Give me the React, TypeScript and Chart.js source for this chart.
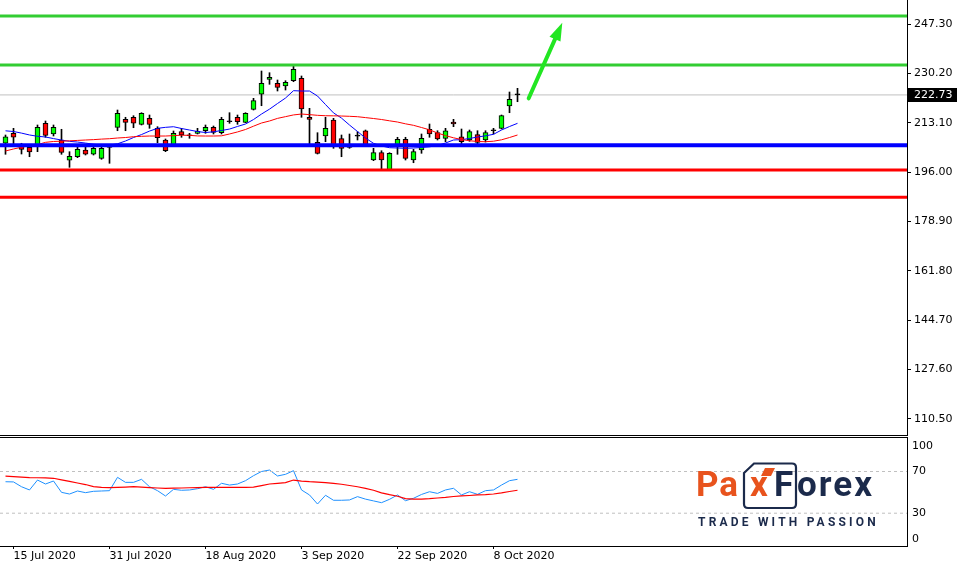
import React, { useEffect, useRef } from 'react';
import { Chart, registerables } from 'chart.js';

Chart.register(...registerables);
Chart.defaults.font.family = 'DejaVu Sans';
Chart.defaults.font.size = 11;

// ---------- data ----------
const dates = [
  '14 Jul 2020', '15 Jul 2020', '16 Jul 2020', '17 Jul 2020', '20 Jul 2020', '21 Jul 2020', '22 Jul 2020', '23 Jul 2020',
  '24 Jul 2020', '27 Jul 2020', '28 Jul 2020', '29 Jul 2020', '30 Jul 2020', '31 Jul 2020', '3 Aug 2020', '4 Aug 2020',
  '5 Aug 2020', '6 Aug 2020', '7 Aug 2020', '10 Aug 2020', '11 Aug 2020', '12 Aug 2020', '13 Aug 2020', '14 Aug 2020',
  '17 Aug 2020', '18 Aug 2020', '19 Aug 2020', '20 Aug 2020', '21 Aug 2020', '24 Aug 2020', '25 Aug 2020', '26 Aug 2020',
  '27 Aug 2020', '28 Aug 2020', '31 Aug 2020', '1 Sep 2020', '2 Sep 2020', '3 Sep 2020', '4 Sep 2020', '8 Sep 2020',
  '9 Sep 2020', '10 Sep 2020', '11 Sep 2020', '14 Sep 2020', '15 Sep 2020', '16 Sep 2020', '17 Sep 2020', '18 Sep 2020',
  '21 Sep 2020', '22 Sep 2020', '23 Sep 2020', '24 Sep 2020', '25 Sep 2020', '28 Sep 2020', '29 Sep 2020', '30 Sep 2020',
  '1 Oct 2020', '2 Oct 2020', '5 Oct 2020', '6 Oct 2020', '7 Oct 2020', '8 Oct 2020', '9 Oct 2020', '12 Oct 2020',
  '13 Oct 2020',
];
const dateTickIndex = [1, 13, 25, 37, 49, 61];

const opens = [
  205.97, 209.43, 205.13, 204.58, 205.03, 212.9, 209.19, 207.11, 200.08, 201.32,
  203.64, 202.16, 200.77, 205.03, 211.51, 214.28, 214.98, 212.55, 214.63, 211.16,
  207.11, 205.27, 209.99, 208.6, 209.43, 210.33, 211.51, 209.64, 213.45, 214.98,
  213.24, 217.75, 222.95, 228.14, 226.76, 225.82, 227.66, 228.49, 214.98, 206.31,
  208.5, 214.04, 207.56, 204.58, 208.5, 210.33, 200.18, 202.71, 196.72, 205.38,
  207.35, 200.18, 203.64, 210.82, 209.64, 207.7, 213.35, 208.25, 207.11, 208.95,
  207.11, 210.33, 211.16, 218.89, 222.8,
];
const highs = [
  208.84, 211.16, 205.97, 205.38, 212.31, 213.69, 212.31, 210.82, 203.06, 204.58,
  204.58, 204.79, 204.79, 205.38, 217.5, 214.98, 215.53, 216.57, 215.77, 211.72,
  207.46, 210.23, 211.16, 209.43, 211.16, 212.31, 211.96, 214.98, 216.57, 215.77,
  216.57, 221.56, 231.02, 230.43, 227.9, 227.66, 232.75, 229.29, 218.09, 209.64,
  214.98, 214.63, 208.84, 209.19, 209.99, 210.57, 204.23, 203.4, 202.71, 208.05,
  208.05, 203.89, 209.19, 212.65, 210.33, 211.16, 214.28, 210.92, 210.57, 210.33,
  210.33, 211.16, 215.77, 223.74, 225.02,
];
const lows = [
  202.16, 205.03, 202.26, 201.32, 203.06, 208.05, 208.5, 202.16, 197.65, 200.98,
  201.91, 201.91, 200.42, 199.04, 210.33, 210.33, 211.37, 212.31, 211.16, 206.17,
  203.06, 205.03, 208.05, 207.7, 209.19, 209.43, 209.19, 209.19, 212.9, 212.55,
  213.1, 217.5, 218.99, 226.41, 224.09, 224.43, 227.31, 214.98, 205.03, 202.26,
  206.52, 204.23, 201.32, 204.23, 207.11, 204.79, 199.94, 196.72, 196.5, 202.16,
  200.18, 199.24, 202.5, 208.05, 207.11, 206.52, 211.72, 205.38, 206.66, 205.13,
  206.42, 209.19, 210.92, 216.57, 220.38,
];
const closes = [
  208.25, 208.05, 203.89, 202.95, 211.51, 208.74, 211.51, 202.85, 201.46, 203.89,
  202.16, 204.23, 204.23, 204.58, 216.36, 213.24, 212.9, 216.36, 212.55, 207.91,
  203.4, 209.43, 208.84, 208.58, 210.12, 211.51, 209.78, 214.28, 213.42, 213.45,
  216.36, 220.73, 226.76, 228.84, 225.37, 227.1, 231.61, 217.85, 214.28, 202.5,
  211.16, 205.13, 204.23, 205.13, 208.47, 205.03, 202.71, 200.18, 202.5, 207.35,
  200.77, 203.06, 207.7, 209.19, 207.46, 210.33, 212.65, 206.52, 209.99, 206.31,
  209.64, 210.36, 215.53, 221.21, 222.73,
];
const maFast = [
  210.3, 210.05, 209.5, 208.85, 208.4, 208.15, 207.6, 207.1, 206.65, 206.4,
  206.05, 205.65, 205.37, 205.37, 205.8, 206.76, 207.97, 209.0, 210.2, 211.16,
  211.5, 211.71, 211.1, 210.57, 210.05, 209.7, 209.95, 210.4, 210.9, 211.8,
  212.65, 214.2, 216.1, 217.8, 219.75, 221.65, 224.2, 224.08, 224.08, 222.35,
  219.4, 216.5, 214.7, 212.3, 210.05, 207.8, 205.96, 205.03, 204.44, 204.34,
  204.24, 204.34, 204.51, 204.75, 205.2, 206.07, 207.11, 207.24, 207.63, 208.15,
  208.56, 209.08, 210.57, 211.78, 212.89,
];
const maSlow = [
  203.3, 204.0, 204.6, 205.1, 205.5, 206.3, 206.6, 206.69, 206.83, 206.97,
  207.11, 207.24, 207.42, 207.56, 207.8, 207.97, 208.25, 208.39, 208.49, 208.49,
  208.49, 208.63, 208.77, 208.73, 208.52, 208.49, 208.49, 208.56, 209.2, 209.9,
  210.75, 211.9, 213.0, 213.7, 214.6, 215.2, 215.8, 216.11, 215.9, 215.66,
  215.52, 215.49, 215.42, 215.32, 215.18, 214.87, 214.56, 214.21, 213.76, 213.34,
  212.72, 212.2, 211.44, 210.64, 209.54, 208.63, 207.87, 207.28, 206.86, 206.59,
  206.52, 206.69, 207.18, 207.97, 208.84,
];
const oscMain = [
  60.2, 60, 55.4, 52.3, 61.8, 58, 60.9, 50, 48.4, 51.3,
  49.7, 51, 51.3, 51.6, 64.4, 59.6, 59.6, 62.5, 55.4, 51.6,
  46.5, 52.9, 52, 52.3, 53.5, 55.4, 52.9, 58.7, 57, 58,
  61.2, 66, 70, 71.4, 65.7, 67.3, 70.8, 52.3, 47.5, 38.8,
  47.2, 42.4, 42.4, 42.7, 45.9, 43.5, 41.8, 40.1, 43.3, 47.5,
  42, 44.3, 48, 50.6, 49, 52.3, 53.9, 47.5, 50.6, 48.1,
  51.6, 52.3, 57, 61.2, 62.5,
];
const oscSignal = [
  65.5, 65, 64.6, 64.2, 64, 63.8, 63.5, 62, 60.6, 59,
  57.5, 55.5, 54.8, 54.5, 54.7, 55, 55.4, 55, 54.6, 54.2,
  53.9, 54, 54.2, 54.4, 54.6, 54.8, 54.8, 54.8, 54.8, 54.8,
  54.8, 55, 56.5, 58, 58.7, 59.3, 61.8, 60.8, 60.2, 59.8,
  59.4, 58.6, 57.8, 56.6, 55.4, 53.8, 52, 49.5, 47.8, 46.3,
  44, 43.6, 43.6, 44, 44.6, 45.2, 46, 46.6, 47, 47.5,
  47.8, 48.4, 49.5, 50.8, 52,
];
const priceTicks = [110.5, 127.6, 144.7, 161.8, 178.9, 196.0, 213.1, 230.2, 247.3];
const oscTicks = [0, 30, 70, 100];
const oscLevels = [70, 30];
const greenLevels = [250.08, 233.1];
const blueLevels = [205.3];
const redLevels = [196.7, 187.26];
const lastPrice = 222.73;
const arrowFrom = [65.4, 221.56];
const arrowTo = [69.6, 247.75];

const PRICE_MIN = 104.55;
const PRICE_MAX = 255.62;
const OSC_MIN = -1.46;
const OSC_MAX = 103.1;
const X_MIN = -0.6875;
const X_MAX = 112.6875;

// ---------- styles ----------
const BULL = '#00ff00';
const BEAR = '#ff0000';
const LEVEL_GREEN = '#32cd32';
const ARROW_GREEN = '#22e622';
const FONT = '11px "DejaVu Sans"';

const levelLine = (y: number, color: string, width: number) => ({
  type: 'line' as const,
  data: [{ x: X_MIN, y }, { x: X_MAX, y }],
  borderColor: color,
  borderWidth: width,
  pointRadius: 0,
  order: -2,
});

function mainConfig(): any {
  const idx = closes.map((_, i) => i);
  const bodyColors = idx.map((i) =>
    Math.abs(closes[i] - opens[i]) < 0.1 ? '#000000' : closes[i] > opens[i] ? BULL : BEAR
  );
  const datasets: any[] = [
    {
      type: 'line',
      data: [{ x: X_MIN, y: lastPrice }, { x: X_MAX, y: lastPrice }],
      borderColor: '#c0c0c0',
      borderWidth: 1,
      pointRadius: 0,
      order: 3,
    },
    {
      type: 'bar',
      data: idx.map((i) => ({ x: i, y: [lows[i], highs[i]] })),
      backgroundColor: '#000000',
      borderWidth: 0,
      barThickness: 1,
      grouped: false,
      order: 2,
    },
    {
      type: 'bar',
      data: idx.map((i) => ({ x: i, y: [opens[i], closes[i]] })),
      backgroundColor: bodyColors,
      borderColor: '#000000',
      borderWidth: 1,
      borderSkipped: false,
      barThickness: 5,
      minBarLength: 1,
      grouped: false,
      order: 1,
    },
    {
      type: 'line',
      data: maSlow.map((y, i) => ({ x: i, y })),
      borderColor: '#ff0000',
      borderWidth: 1,
      pointRadius: 0,
      order: -1,
    },
    {
      type: 'line',
      data: maFast.map((y, i) => ({ x: i, y })),
      borderColor: '#0000ff',
      borderWidth: 1,
      pointRadius: 0,
      order: -1,
    },
    ...greenLevels.map((v) => levelLine(v, LEVEL_GREEN, 3)),
    ...blueLevels.map((v) => levelLine(v, '#0000ff', 4)),
    ...redLevels.map((v) => levelLine(v, '#ff0000', 3)),
  ];

  const overlay = {
    id: 'mainOverlay',
    afterDraw(chart: any) {
      const { ctx, chartArea, scales } = chart;
      const x = scales.x;
      const y = scales.y;
      ctx.save();
      ctx.strokeStyle = '#000';
      ctx.lineWidth = 1;
      ctx.beginPath();
      ctx.moveTo(0, chartArea.bottom - 0.5);
      ctx.lineTo(chartArea.right + 1, chartArea.bottom - 0.5);
      ctx.stroke();
      const x0 = x.getPixelForValue(arrowFrom[0]);
      const y0 = y.getPixelForValue(arrowFrom[1]);
      const x1 = x.getPixelForValue(arrowTo[0]);
      const y1 = y.getPixelForValue(arrowTo[1]);
      const dx = x1 - x0;
      const dy = y1 - y0;
      const len = Math.hypot(dx, dy);
      const ux = dx / len;
      const uy = dy / len;
      const headLen = 18;
      const headHalf = 6;
      const bx = x1 - ux * headLen;
      const by = y1 - uy * headLen;
      ctx.strokeStyle = ARROW_GREEN;
      ctx.fillStyle = ARROW_GREEN;
      ctx.lineWidth = 4;
      ctx.lineCap = 'round';
      ctx.beginPath();
      ctx.moveTo(x0, y0);
      ctx.lineTo(bx + ux * 2, by + uy * 2);
      ctx.stroke();
      ctx.beginPath();
      ctx.moveTo(x1, y1);
      ctx.lineTo(bx - uy * headHalf, by + ux * headHalf);
      ctx.lineTo(bx + uy * headHalf, by - ux * headHalf);
      ctx.closePath();
      ctx.fill();
      const py = y.getPixelForValue(lastPrice);
      ctx.fillStyle = '#000';
      ctx.fillRect(chartArea.right + 1, Math.round(py) - 7, 49, 14);
      ctx.fillStyle = '#fff';
      ctx.font = FONT;
      ctx.textBaseline = 'middle';
      ctx.textAlign = 'left';
      ctx.fillText(lastPrice.toFixed(2), chartArea.right + 7, Math.round(py));
      ctx.restore();
    },
  };

  return {
    type: 'bar',
    data: { datasets },
    options: {
      animation: false,
      responsive: false,
      devicePixelRatio: 1,
      events: [],
      layout: { padding: 0 },
      plugins: { legend: { display: false }, tooltip: { enabled: false } },
      scales: {
        x: { type: 'linear', min: X_MIN, max: X_MAX, offset: false, display: false },
        y: {
          type: 'linear',
          position: 'right',
          min: PRICE_MIN,
          max: PRICE_MAX,
          afterBuildTicks: (s: any) => {
            s.ticks = priceTicks.map((v) => ({ value: v }));
          },
          afterFit: (s: any) => {
            s.width = 57;
            s.paddingTop = 0;
            s.paddingBottom = 0;
          },
          ticks: {
            autoSkip: false,
            padding: 3,
            color: '#000',
            font: { family: 'DejaVu Sans', size: 11 },
            callback: (v: any) => Number(v).toFixed(2),
          },
          grid: { drawOnChartArea: false, drawTicks: true, tickLength: 4, tickColor: '#000', color: '#000' },
          border: { display: true, color: '#000', width: 1 },
        },
      },
    },
    plugins: [overlay],
  };
}

function oscConfig(): any {
  const datasets: any[] = [
    ...oscLevels.map((v) => ({
      data: [{ x: X_MIN, y: v }, { x: X_MAX, y: v }],
      borderColor: '#c0c0c0',
      borderWidth: 1,
      borderDash: [3, 3],
      pointRadius: 0,
    })),
    {
      data: oscSignal.map((y, i) => ({ x: i, y })),
      borderColor: '#ff0000',
      borderWidth: 1.2,
      pointRadius: 0,
    },
    {
      data: oscMain.map((y, i) => ({ x: i, y })),
      borderColor: '#1e90ff',
      borderWidth: 1,
      pointRadius: 0,
    },
  ];

  const overlay = {
    id: 'oscOverlay',
    afterDraw(chart: any) {
      const { ctx, chartArea, scales } = chart;
      const y = scales.y;
      ctx.save();
      ctx.strokeStyle = '#000';
      ctx.lineWidth = 1;
      ctx.beginPath();
      ctx.moveTo(0, chartArea.top + 0.5);
      ctx.lineTo(chartArea.right + 1, chartArea.top + 0.5);
      ctx.stroke();
      ctx.font = FONT;
      ctx.fillStyle = '#000';
      ctx.textBaseline = 'middle';
      ctx.textAlign = 'left';
      for (const v of oscTicks) {
        let py = y.getPixelForValue(v);
        py = Math.min(Math.max(py, chartArea.top + 9), chartArea.bottom - 7);
        ctx.fillText(String(v), chartArea.right + 5, py);
      }
      ctx.restore();
    },
  };

  return {
    type: 'line',
    data: { datasets },
    options: {
      animation: false,
      responsive: false,
      devicePixelRatio: 1,
      events: [],
      layout: { padding: { top: 1, left: 0, right: 0, bottom: 0 } },
      plugins: { legend: { display: false }, tooltip: { enabled: false } },
      scales: {
        x: {
          type: 'linear',
          position: 'bottom',
          min: X_MIN,
          max: X_MAX,
          offset: false,
          afterBuildTicks: (s: any) => {
            s.ticks = dateTickIndex.map((v) => ({ value: v }));
          },
          afterFit: (s: any) => {
            s.height = 20;
            s.paddingLeft = 0;
            s.paddingRight = 0;
          },
          ticks: {
            autoSkip: false,
            maxRotation: 0,
            minRotation: 0,
            align: 'start',
            padding: 1,
            color: '#000',
            font: { family: 'DejaVu Sans', size: 11 },
            callback: (v: any) => dates[Math.round(Number(v))],
          },
          grid: { drawOnChartArea: false, drawTicks: true, tickLength: 3, tickColor: '#000', color: '#000' },
          border: { display: true, color: '#000', width: 1 },
        },
        y: {
          type: 'linear',
          position: 'right',
          min: OSC_MIN,
          max: OSC_MAX,
          afterBuildTicks: (s: any) => {
            s.ticks = oscTicks.map((v) => ({ value: v }));
          },
          afterFit: (s: any) => {
            s.width = 57;
            s.paddingTop = 0;
            s.paddingBottom = 0;
          },
          ticks: { display: false },
          grid: { display: false },
          border: { display: true, color: '#000', width: 1 },
        },
      },
    },
    plugins: [overlay],
  };
}

const NAVY = '#1b2a4b';
const ORANGE = '#e8531d';

export default function App() {
  const mainRef = useRef<HTMLCanvasElement>(null);
  const oscRef = useRef<HTMLCanvasElement>(null);

  useEffect(() => {
    const c1 = new Chart(mainRef.current as HTMLCanvasElement, mainConfig());
    const c2 = new Chart(oscRef.current as HTMLCanvasElement, oscConfig());
    return () => {
      c1.destroy();
      c2.destroy();
    };
  }, []);

  const logoFont: React.CSSProperties = {
    position: 'absolute',
    top: 467,
    fontFamily: 'Roboto, "Open Sans", sans-serif',
    fontWeight: 700,
    fontSize: 35,
    lineHeight: '36px',
    whiteSpace: 'pre',
  };

  return (
    <div
      style={{
        position: 'fixed',
        left: 0,
        top: 0,
        width: 964,
        height: 566,
        background: '#ffffff',
        overflow: 'hidden',
      }}
    >
      <canvas
        ref={mainRef}
        width={964}
        height={436}
        style={{ position: 'absolute', left: 0, top: 0, width: 964, height: 436 }}
      />
      <canvas
        ref={oscRef}
        width={964}
        height={130}
        style={{ position: 'absolute', left: 0, top: 436, width: 964, height: 130 }}
      />
      <div style={{ position: 'absolute', left: 0, top: 0, width: 964, height: 566, pointerEvents: 'none' }}>
        <svg width={964} height={566} style={{ position: 'absolute', left: 0, top: 0 }}>
          <path
            d="M744,473 L754,463.5 L792,463.5 Q796,463.5 796,467.5 L796,504 Q796,508 792,508 L748,508 Q744,508 744,504 Z"
            fill="none"
            stroke={NAVY}
            strokeWidth={2.2}
          />
          <polygon points="765,468 775,468 771,476 761,476" fill={ORANGE} />
        </svg>
        <span style={{ ...logoFont, left: 696, color: ORANGE, letterSpacing: '1px' }}>Pa</span>
        <span style={{ ...logoFont, left: 750, color: ORANGE }}>x</span>
        <span style={{ ...logoFont, left: 774, color: NAVY }}>F</span>
        <span style={{ ...logoFont, left: 797, color: NAVY, letterSpacing: '2px' }}>orex</span>
        <span
          style={{
            position: 'absolute',
            left: 698,
            top: 516,
            fontFamily: 'Roboto, "Open Sans", sans-serif',
            fontWeight: 700,
            fontSize: 12,
            lineHeight: '12px',
            letterSpacing: '3.2px',
            color: NAVY,
            whiteSpace: 'pre',
          }}
        >
          TRADE WITH PASSION
        </span>
      </div>
    </div>
  );
}
